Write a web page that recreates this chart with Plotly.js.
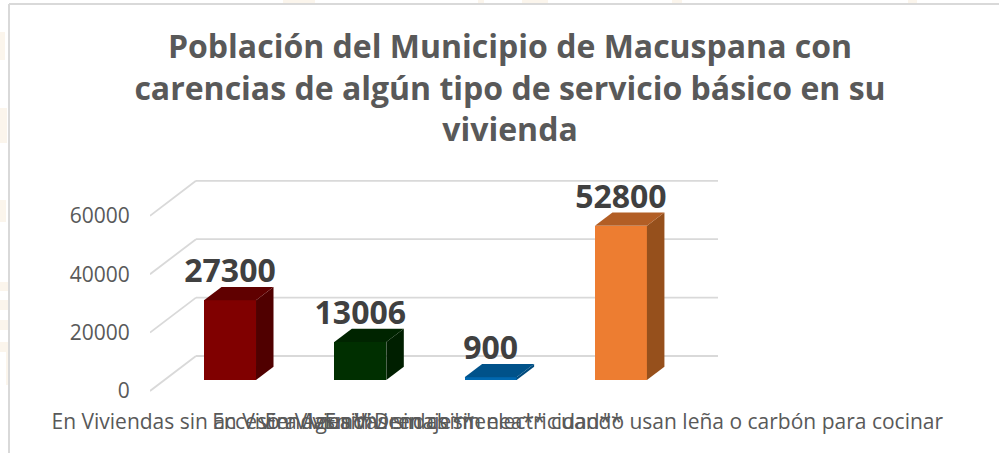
<!DOCTYPE html>
<html><head><meta charset="utf-8">
<script src="https://cdn.plot.ly/plotly-3.0.1.min.js"></script>
<style>html,body{margin:0;padding:0;background:#fff}#c{width:999px;height:453px}</style>
</head><body><div id="c"></div>
<script>
const categories = ["En Viviendas sin acceso a Agua**","En Viviendas sin Drenaje**","En Viviendas sin electricidad**","En Viviendas sin chimenea** cuando usan leña o carbón para cocinar"];
const values = [27300,13006,900,52800];
const frontColors = ["#800000","#002F00","#0068B0","#ED7D31"];
const topColors = ["#600000","#002400","#00528A","#B25E25"];
const sideColors = ["#500000","#001F00","#004A7C","#96501C"];
const yTicks = [0,20000,40000,60000];
const titleText = "Población del Municipio de Macuspana con<br>carencias de algún tipo de servicio básico en su<br>vivienda";

// chart geometry, in axis units
const W=999,H=453, plotL=150,plotR=718,plotT=170,plotB=396, zeroPx=391;
const xMin=-0.614,xMax=3.745, pxPerX=(plotR-plotL)/(xMax-xMin);
const pxPerY=58.4/20000, yMin=-(plotB-zeroPx)/pxPerY, yMax=(zeroPx-plotT)/pxPerY;
const barHalf=26/pxPerX, depthX=17.5/pxPerX, depthY=13.3/pxPerY;
const floorY=11/pxPerY, wallBackY=35/pxPerY, wallDX=46/pxPerX;
const labelShift=-17/pxPerX, labelDrop=3/pxPerY;

const xs=categories.map((_,i)=>i);
const traces=[{type:"bar",x:xs,y:values,base:values.map(()=>floorY),width:barHalf*2,
  marker:{color:frontColors,line:{width:0}},hoverinfo:"skip",showlegend:false}];
values.forEach((v,i)=>{
  const t=floorY+v;
  const l=i-barHalf,r=i+barHalf;
  traces.push({type:"scatter",mode:"lines",fill:"toself",fillcolor:sideColors[i],line:{width:0,color:sideColors[i]},
    x:[r,r+depthX,r+depthX,r,r],y:[floorY,floorY+depthY,t+depthY,t,floorY],hoverinfo:"skip",showlegend:false});
  traces.push({type:"scatter",mode:"lines",fill:"toself",fillcolor:topColors[i],line:{width:0,color:topColors[i]},
    x:[l,l+depthX,r+depthX,r,l],y:[t,t+depthY,t+depthY,t,t],hoverinfo:"skip",showlegend:false});
});
traces.push({type:"scatter",mode:"text",x:xs,y:values.map(v=>floorY+v+depthY-labelDrop),text:values.map(String),
  textposition:"top center",textfont:{family:"Open Sans",size:32,color:"#404040",weight:700},
  cliponaxis:false,hoverinfo:"skip",showlegend:false});

const shapes=[];
const gridLine={color:"#D9D9D9",width:1.8};
yTicks.forEach(v=>{
  shapes.push({type:"line",layer:"below",xref:"x",yref:"y",x0:xMin,y0:v,x1:xMin+wallDX,y1:v+wallBackY,line:gridLine});
  shapes.push({type:"line",layer:"below",xref:"x",yref:"y",x0:xMin+wallDX,y0:v+wallBackY,x1:xMax,y1:v+wallBackY,line:gridLine});
});
const px=x=>(x-plotL)/(plotR-plotL), py=y=>(plotB-y)/(plotB-plotT);
shapes.push({type:"line",layer:"below",xref:"paper",yref:"paper",x0:px(9),x1:px(9),y0:py(453),y1:py(4),line:{color:"#D9D9D9",width:2}});
shapes.push({type:"line",layer:"below",xref:"paper",yref:"paper",x0:px(9),x1:px(999),y0:py(4),y1:py(4),line:{color:"#D9D9D9",width:2}});
// faint watermark fragments showing outside the chart frame
const watermark=[[283,0,315,3],[478,0,484,3],[522,0,548,3],[672,0,682,3],[908,0,917,3],
  [0,32,5,60],[0,108,7,143],[0,200,6,222],[0,282,8,291],[0,300,8,310],[0,320,8,330],[0,342,8,352],[6,352,8,385]];
watermark.forEach(b=>shapes.push({type:"rect",layer:"below",xref:"paper",yref:"paper",x0:px(b[0]),x1:px(b[2]),y0:py(b[3]),y1:py(b[1]),line:{width:0},fillcolor:"#FBF5EC"}));

Plotly.newPlot("c",traces,{
  width:W,height:H,autosize:false,showlegend:false,
  paper_bgcolor:"#fff",plot_bgcolor:"rgba(0,0,0,0)",
  margin:{l:plotL,r:W-plotR,t:plotT,b:H-plotB,pad:0},
  title:{text:titleText,x:510/W,xanchor:"center",y:1-58/H,yanchor:"top",
    font:{family:"Open Sans",size:32,color:"#595959",weight:700}},
  xaxis:{range:[xMin,xMax],tickmode:"array",tickvals:xs.map(i=>i+labelShift),ticktext:categories,tickangle:0,
    showgrid:false,zeroline:false,showline:false,ticks:"outside",ticklen:7,tickcolor:"rgba(0,0,0,0)",
    tickfont:{family:"Open Sans",size:21,color:"#595959"}},
  yaxis:{range:[yMin,yMax],tickmode:"array",tickvals:yTicks,ticktext:yTicks.map(String),
    showgrid:false,zeroline:false,showline:false,ticks:"outside",ticklen:15,tickcolor:"rgba(0,0,0,0)",
    tickfont:{family:"Open Sans",size:21,color:"#595959"}},
  shapes:shapes,bargap:0
},{displayModeBar:false,staticPlot:true});
</script></body></html>
